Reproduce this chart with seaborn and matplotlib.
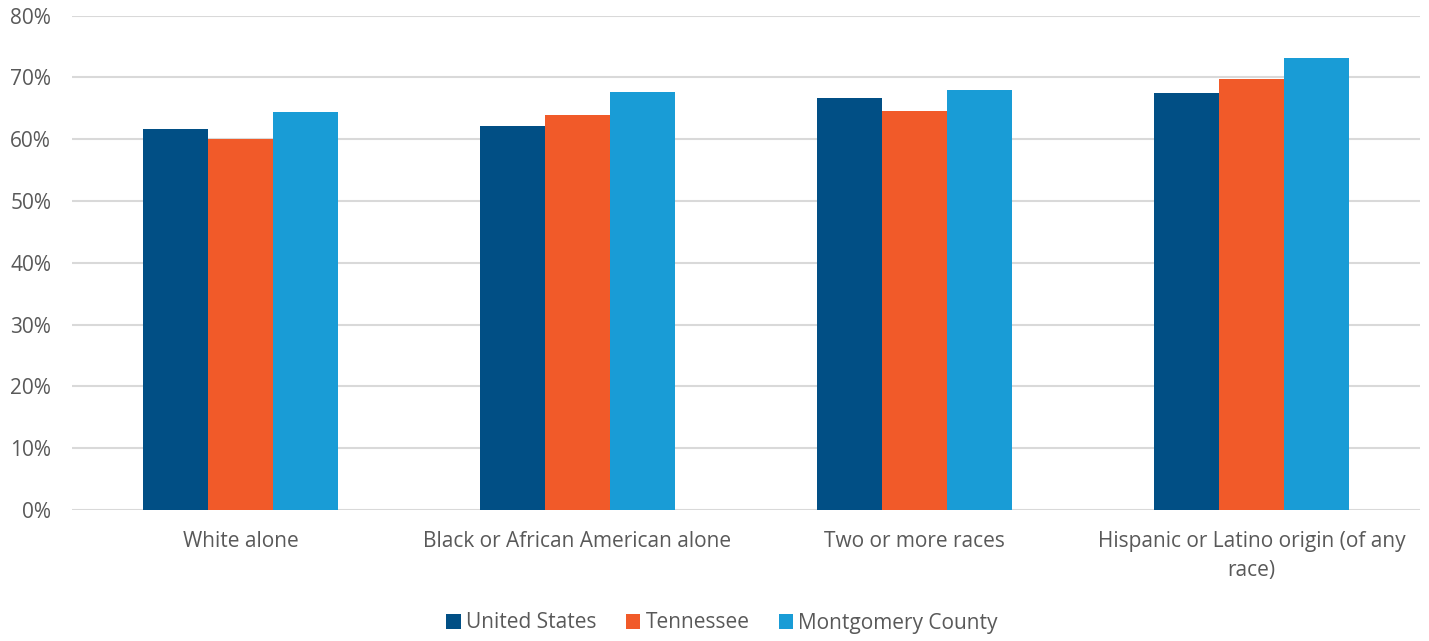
import matplotlib
matplotlib.use("Agg")
import matplotlib.pyplot as plt
import pandas as pd
import seaborn as sns
from matplotlib.ticker import PercentFormatter
from matplotlib.patches import Patch

categories = [
    "White alone",
    "Black or African American alone",
    "Two or more races",
    "Hispanic or Latino origin (of any\nrace)",
]
series_names = ["United States", "Tennessee", "Montgomery County"]
united_states = [61.7, 62.2, 66.6, 67.5]
tennessee = [60.0, 63.9, 64.6, 69.7]
montgomery = [64.4, 67.6, 68.0, 73.2]
y_ticks = [0, 10, 20, 30, 40, 50, 60, 70, 80]

colors = ["#014F85", "#F15A29", "#199CD6"]
text_color = "#595959"
font_size = 15

rows = []
for name, vals in zip(series_names, [united_states, tennessee, montgomery]):
    for cat, v in zip(categories, vals):
        rows.append({"category": cat, "series": name, "value": v})
df = pd.DataFrame(rows)

sns.set_theme(style="white")
plt.rcParams["font.family"] = ["Open Sans", "DejaVu Sans"]

fig = plt.figure(figsize=(14.29, 6.41), dpi=100)
ax = fig.add_axes([72 / 1429, 1 - 510 / 641, (1420 - 72) / 1429, (510 - 15.5) / 641])

sns.barplot(
    data=df, x="category", y="value", hue="series",
    hue_order=series_names, order=categories,
    palette=colors, width=0.58, gap=0, saturation=1,
    edgecolor="none", linewidth=0, legend=False, ax=ax, zorder=3,
)

ax.set_ylim(0, 80)
ax.set_xlim(-0.5, len(categories) - 0.5)
ax.set_yticks(y_ticks)
ax.yaxis.set_major_formatter(PercentFormatter(decimals=0))
ax.yaxis.grid(True, color="#D9D9D9", linewidth=1.5, zorder=0)
ax.xaxis.grid(False)
ax.set_axisbelow(True)
for s in ax.spines.values():
    s.set_visible(False)
ax.tick_params(axis="both", length=0, labelsize=font_size, colors=text_color)
ax.tick_params(axis="y", pad=15)
ax.tick_params(axis="x", pad=15)
ax.set_xlabel("")
ax.set_ylabel("")
for lbl in ax.get_xticklabels():
    lbl.set_linespacing(1.5)

handles = [Patch(facecolor=c, edgecolor="none") for c in colors]
fig.legend(
    handles, series_names, loc="center", bbox_to_anchor=(722 / 1429, 1 - 623 / 641),
    ncol=3, frameon=False, fontsize=font_size, handlelength=0.7, handleheight=0.7,
    handletextpad=0.25, columnspacing=1.4, labelcolor=text_color,
)

fig.savefig("out.png", dpi=100, facecolor="white")
